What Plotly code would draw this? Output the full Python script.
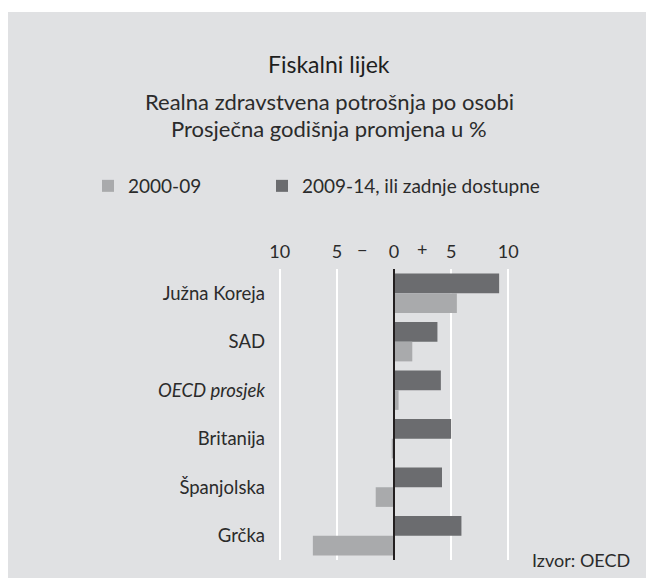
import plotly.graph_objects as go

countries = ['Južna Koreja', 'SAD', '<i>OECD prosjek</i>', 'Britanija', 'Španjolska', 'Grčka']
recent = [9.2, 3.8, 4.1, 5.0, 4.2, 5.9]        # 2009-14, ili zadnje dostupne
earlier = [5.5, 1.6, 0.4, -0.2, -1.6, -7.1]    # 2000-09
tick_vals = [-10, -5, 0, 5, 10]
tick_text = ['10', '5', '0', '5', '10']

W, H = 646, 578
L, R, T, B = 274, 132, 269, 18
pw, ph = W - L - R, H - T - B

# pixel -> paper helpers
def px(x):
    return (x - L) / pw

def py(y):
    return (H - B - y) / ph

font = 'Lato'
ink = '#2b2b2b'

fig = go.Figure()
fig.add_trace(go.Bar(y=countries, x=recent, orientation='h', name='2009-14, ili zadnje dostupne',
                     marker=dict(color='#6b6c6f', line=dict(width=0)), legend='legend2',
                     showlegend=True))
fig.add_trace(go.Bar(y=countries, x=earlier, orientation='h', name='2000-09',
                     marker=dict(color='#a9aaac', line=dict(width=0)), legend='legend',
                     showlegend=True))

leg = dict(orientation='h', yanchor='middle', xanchor='left', bgcolor='rgba(0,0,0,0)',
           font=dict(size=19), borderwidth=0, visible=True)

fig.update_layout(
    width=W, height=H, autosize=False, showlegend=True,
    margin=dict(l=L, r=R, t=T, b=B, pad=0),
    paper_bgcolor='white', plot_bgcolor='#e0e1e3',
    font=dict(family=font, color=ink, size=17),
    barmode='group', bargap=0.19, bargroupgap=0,
    xaxis=dict(range=[-10.5, 10.5], side='top', tickvals=tick_vals, ticktext=tick_text,
               showgrid=True, gridcolor='white', gridwidth=1.5, zeroline=False,
               showline=False, ticks='', ticklabelstandoff=6, tickfont=dict(size=18)),
    yaxis=dict(autorange='reversed', showgrid=False, zeroline=False, showline=False,
               ticks='', ticklabelstandoff=8, tickfont=dict(size=18.5)),
    legend=dict(leg, x=px(88), y=py(186)),
    legend2=dict(leg, x=px(262), y=py(186)),
    shapes=[
        dict(type='rect', xref='paper', yref='paper', x0=px(8), x1=px(W + 2), y0=py(H + 2), y1=py(12),
             fillcolor='#e0e1e3', line=dict(width=0), layer='below'),
        dict(type='line', xref='x', yref='paper', x0=0, x1=0, y0=0, y1=1,
             line=dict(color='#231f20', width=2), layer='above'),
    ],
    annotations=[
        dict(text='Fiskalni lijek', x=px(329), y=py(64), xref='paper', yref='paper',
             showarrow=False, xanchor='center', yanchor='middle', font=dict(size=23, color='#1e1e1e')),
        dict(text='Realna zdravstvena potrošnja po osobi', x=px(329), y=py(101), xref='paper', yref='paper',
             showarrow=False, xanchor='center', yanchor='middle', font=dict(size=22)),
        dict(text='Prosječna godišnja promjena u %', x=px(329), y=py(129), xref='paper', yref='paper',
             showarrow=False, xanchor='center', yanchor='middle', font=dict(size=22)),
        dict(text='−', x=-2.8, y=py(249), xref='x', yref='paper',
             showarrow=False, xanchor='center', yanchor='middle', font=dict(size=18)),
        dict(text='+', x=2.45, y=py(249), xref='x', yref='paper',
             showarrow=False, xanchor='center', yanchor='middle', font=dict(size=18)),
        dict(text='Izvor: OECD', x=px(632), y=py(560), xref='paper', yref='paper',
             showarrow=False, xanchor='right', yanchor='middle', font=dict(size=18)),
    ],
)

fig.write_html('out.html', config={'displayModeBar': False},
               post_script="document.body.style.margin='0';document.body.style.overflow='hidden';")
